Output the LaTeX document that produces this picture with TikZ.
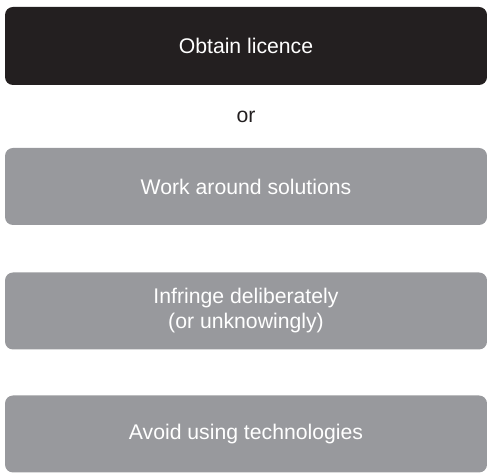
\documentclass[tikz,border=0pt]{standalone}
\usepackage{fontspec}
\setmainfont{Liberation Sans}
\usetikzlibrary{positioning}
\definecolor{Ink}{HTML}{231F20}
\definecolor{Stone}{HTML}{98999D}
\tikzset{
    darkbox/.style={rectangle, rounded corners=8pt, fill=Ink, text=white, align=center, minimum width=482pt, minimum height=78pt, inner sep=0pt, font=\fontsize{21.2}{25}\selectfont},
    greybox/.style={rectangle, rounded corners=8pt, fill=Stone, text=white, align=center, minimum width=482pt, minimum height=77pt, inner sep=0pt, font=\fontsize{21.2}{25}\selectfont},
}
\begin{document}
\begin{tikzpicture}[x=1pt, y=1pt]
    \useasboundingbox (0,0) rectangle (487,473);
    % Licence
    \node[darkbox] (obtain) at (246, 427) {Obtain licence};
    \node[text=Ink, font=\fontsize{21.2}{25}\selectfont] (orword) at (246, 356) {or};
    % Alternatives
    \node[greybox] (workaround) at (246, 286.5) {Work around solutions};
    \node[greybox] (infringe) at (246, 162) {Infringe deliberately\\(or unknowingly)};
    \node[greybox] (avoid) at (246, 39) {Avoid using technologies};
\end{tikzpicture}
\end{document}
